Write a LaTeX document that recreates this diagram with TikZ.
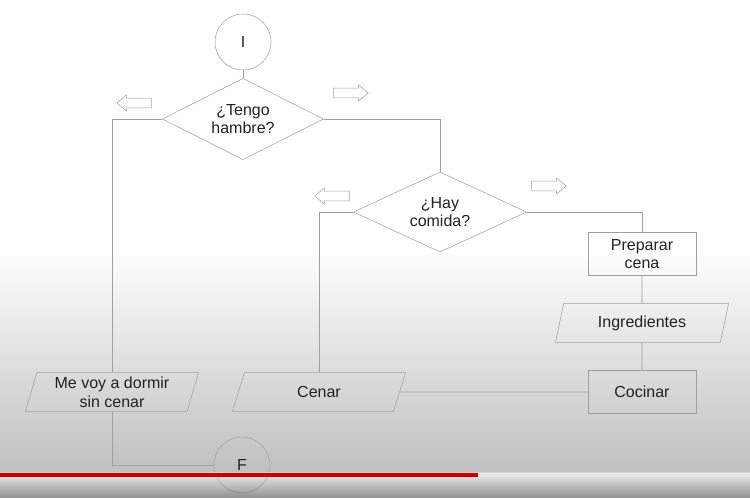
\documentclass[tikz,border=0pt]{standalone}
\usepackage{fontspec}
\setmainfont{Liberation Sans}
\usepackage{tikz}
\usetikzlibrary{shapes.geometric,shapes.arrows}
\definecolor{linea}{HTML}{A0A0A0}
\definecolor{texto}{HTML}{222222}
\definecolor{barra}{HTML}{D40000}

\begin{document}
\begin{tikzpicture}[x=0.75pt,y=-0.75pt,
        every node/.style={text=texto, font=\fontsize{12}{14}\selectfont},
        terminal/.style={draw=linea, circle, minimum size=42pt, inner sep=0pt},
        decision/.style={draw=linea, diamond, shape aspect=2, inner sep=0pt, align=center},
        proceso/.style={draw=linea, rectangle, minimum width=81pt, minimum height=32pt, align=center},
        datos/.style={draw=linea, trapezium, trapezium left angle=75, trapezium right angle=105,
            trapezium stretches=true, minimum width=130pt, minimum height=29pt, inner sep=1pt, align=center},
        flecha/.style={draw=linea, single arrow, minimum height=26pt, inner xsep=0pt, inner ysep=3.4pt,
            single arrow head extend=2.4pt, single arrow tip angle=80},
        linea/.style={draw=linea, line width=0.7pt}]
        \useasboundingbox (0,0) rectangle (750,497);
        % Background of the video frame
        \fill[white] (0,0) rectangle (750,250);
        \shade[top color=white, bottom color=black!25] (0,249) rectangle (750,472);

        % Nodes of the flowchart
        \node[terminal] (ini) at (243,42) {I};
        \node[decision, minimum width=121pt, minimum height=61pt] (tengo) at (243,119) {¿Tengo\\hambre?};
        \node[decision, minimum width=130pt, minimum height=60pt] (comida) at (440,212) {¿Hay\\comida?};
        \node[proceso] (preparar) at (642,254) {Preparar\\cena};
        \node[datos] (ingred) at (642,323) {Ingredientes};
        \node[proceso] (cocinar) at (642,392) {Cocinar};
        \node[datos] (cenar) at (319,392) {Cenar};
        \node[datos] (dormir) at (112,392) {Me voy a dormir\\sin cenar};
        \node[terminal] (fin) at (242,465) {F};

        % Hollow arrows for the branches
        \node[flecha, shape border rotate=180] (noTengo) at (137,103) {};
        \node[flecha] (siTengo) at (348,93) {};
        \node[flecha, shape border rotate=180] (noHay) at (335,196) {};
        \node[flecha] (siHay) at (546,186) {};

        % Connectors
        \draw[linea] (ini) -- (tengo);
        \draw[linea] (tengo.west) -| (dormir.north);
        \draw[linea] (tengo.east) -| (comida.north);
        \draw[linea] (comida.west) -| (cenar.north);
        \draw[linea] (comida.east) -| (preparar.north);
        \draw[linea] (preparar) -- (ingred);
        \draw[linea] (ingred) -- (cocinar);
        \draw[linea] (cocinar) -- (cenar);
        \draw[linea] (dormir.south) |- (fin.west);

        % Player bar
        \shade[top color=black!10, bottom color=black!70, opacity=0.6] (0,472) rectangle (750,497);
        \fill[white!80!gray] (478,473) rectangle (750,477);
        \fill[barra] (0,473) rectangle (478,477);
\end{tikzpicture}
\end{document}
